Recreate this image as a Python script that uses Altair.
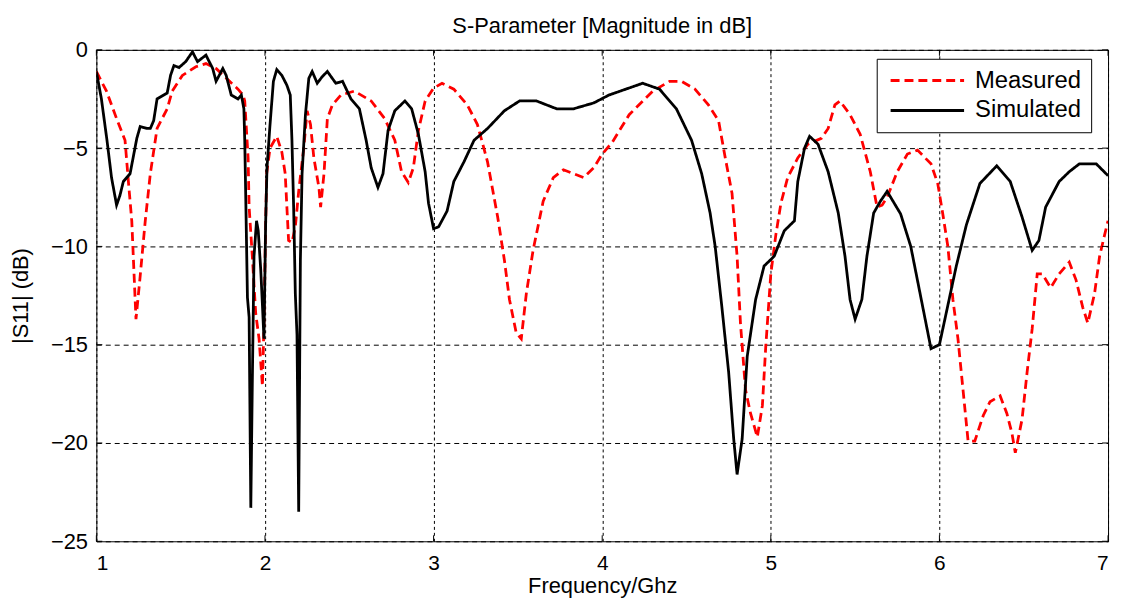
import altair as alt
import pandas as pd

# ---- data ----
sim_f = [1.00, 1.03, 1.063, 1.09, 1.12, 1.14, 1.16, 1.20, 1.24, 1.26, 1.30, 1.32, 1.34, 1.36, 1.42, 1.44,
         1.46, 1.49, 1.53, 1.57, 1.60, 1.65, 1.69, 1.71, 1.75, 1.77, 1.80, 1.84, 1.86, 1.875, 1.88, 1.886,
         1.896, 1.906, 1.916, 1.925, 1.935, 1.950, 1.96, 1.975, 1.985, 1.994, 2.004, 2.012, 2.03, 2.05,
         2.07, 2.10, 2.13, 2.15, 2.16, 2.17, 2.18, 2.19, 2.20, 2.21, 2.22, 2.24, 2.26, 2.28, 2.31, 2.34,
         2.37, 2.42, 2.46, 2.51, 2.56, 2.60, 2.63, 2.67, 2.70, 2.73, 2.77, 2.83, 2.87, 2.91, 2.95, 2.97,
         3.00, 3.03, 3.08, 3.12, 3.18, 3.24, 3.32, 3.42, 3.51, 3.61, 3.73, 3.83, 3.95, 4.04, 4.14, 4.24,
         4.34, 4.44, 4.53, 4.59, 4.64, 4.67, 4.71, 4.75, 4.78, 4.80, 4.83, 4.86, 4.91, 4.96, 5.02, 5.08,
         5.14, 5.16, 5.20, 5.23, 5.28, 5.34, 5.40, 5.44, 5.47, 5.50, 5.54, 5.57, 5.61, 5.65, 5.69, 5.77,
         5.83, 5.89, 5.95, 6.00, 6.04, 6.10, 6.16, 6.24, 6.34, 6.42, 6.49, 6.55, 6.59, 6.63, 6.71, 6.77,
         6.83, 6.93, 7.00]
sim_db = [-1.1, -2.5, -4.6, -6.5, -7.9, -7.4, -6.7, -6.3, -4.5, -3.9, -4.0, -4.0, -3.6, -2.5, -2.2, -1.3,
          -0.8, -0.9, -0.6, -0.1, -0.6, -0.27, -0.95, -1.6, -0.95, -1.3, -2.3, -2.5, -2.3, -3.0, -4.6, -7.5,
          -12.6, -13.6, -23.3, -16.9, -10.5, -8.7, -9.2, -11.2, -13.0, -14.7, -8.8, -6.0, -3.8, -1.6,
          -1.0, -1.3, -1.8, -2.3, -4.6, -8.0, -12.4, -14.5, -23.5, -10.7, -6.3, -3.3, -1.45, -1.1, -1.7, -1.36,
          -1.1, -1.7, -1.6, -2.5, -3.0, -4.6, -6.0, -7.0, -6.3, -4.1, -3.1, -2.6, -3.0, -4.3, -6.2, -7.8,
          -9.1, -9.0, -8.2, -6.7, -5.7, -4.6, -4.0, -3.1, -2.6, -2.6, -3.0, -3.0, -2.7, -2.3, -2.0, -1.7,
          -2.0, -3.0, -4.6, -6.3, -8.3, -10.0, -13.1, -16.4, -19.8, -21.6, -19.8, -15.6, -12.7, -11.0, -10.5, -9.2,
          -8.7, -6.7, -5.0, -4.4, -4.8, -6.2, -8.3, -10.5, -12.7, -13.7, -12.7, -10.5, -8.3, -7.7, -7.2, -8.35,
          -10.0, -12.6, -15.2, -15.0, -13.4, -11.0, -8.9, -6.8, -5.9, -6.7, -8.5, -10.2, -9.7, -8.0, -6.7, -6.2,
          -5.8, -5.8, -6.4]

meas_f = [1.00, 1.06, 1.12, 1.17, 1.19, 1.21, 1.235, 1.26, 1.29, 1.32, 1.36, 1.42, 1.45, 1.51, 1.59, 1.65,
          1.71, 1.79, 1.84, 1.87, 1.88, 1.90, 1.906, 1.925, 1.945, 1.965, 1.985, 1.994, 2.004, 2.01, 2.03, 2.07,
          2.10, 2.12, 2.14, 2.16, 2.18, 2.20, 2.23, 2.25, 2.27, 2.29, 2.32, 2.33, 2.35, 2.37, 2.40, 2.45,
          2.53, 2.63, 2.71, 2.77, 2.81, 2.85, 2.88, 2.91, 2.95, 3.00, 3.05, 3.12, 3.20, 3.26, 3.32, 3.38,
          3.42, 3.45, 3.49, 3.52, 3.55, 3.59, 3.65, 3.71, 3.77, 3.89, 3.95, 4.00, 4.06, 4.16, 4.30, 4.40,
          4.47, 4.55, 4.63, 4.69, 4.73, 4.77, 4.80, 4.82, 4.85, 4.88, 4.92, 4.95, 4.97, 5.00, 5.03, 5.06,
          5.10, 5.16, 5.22, 5.30, 5.34, 5.38, 5.41, 5.47, 5.53, 5.59, 5.63, 5.66, 5.69, 5.75, 5.81, 5.87,
          5.95, 5.99, 6.02, 6.05, 6.08, 6.11, 6.14, 6.17, 6.21, 6.26, 6.30, 6.36, 6.40, 6.43, 6.45, 6.49,
          6.52, 6.55, 6.58, 6.61, 6.66, 6.71, 6.77, 6.81, 6.85, 6.88, 6.92, 6.95, 6.98, 7.00]
meas_db = [-1.1, -2.1, -3.5, -4.6, -6.7, -8.7, -13.7, -11.5, -8.7, -6.3, -4.0, -3.0, -2.1, -1.3, -0.86, -0.7,
           -0.95, -1.6, -2.0, -2.3, -2.6, -5.5, -8.0, -10.5, -13.4, -14.7, -17.1, -13.9, -8.85, -6.3, -5.0, -4.4,
           -5.2, -6.3, -9.7, -9.8, -9.0, -7.2, -5.0, -3.1, -3.8, -5.5, -7.0, -8.0, -6.3, -3.5, -2.8, -2.3,
           -2.1, -2.6, -3.5, -4.6, -6.2, -6.75, -6.0, -4.1, -2.6, -1.95, -1.7, -2.0, -2.8, -3.8, -5.7, -8.5,
           -10.7, -12.7, -14.4, -14.7, -12.4, -10.2, -7.7, -6.5, -6.1, -6.5, -6.0, -5.3, -4.7, -3.3, -2.1, -1.6,
           -1.6, -2.0, -2.8, -3.6, -5.5, -7.3, -10.5, -13.9, -17.3, -18.5, -19.7, -18.1, -15.1, -11.4, -9.4, -7.8,
           -6.5, -5.5, -4.8, -4.5, -4.0, -2.8, -2.6, -3.3, -4.3, -6.2, -8.0, -7.9, -7.5, -6.2, -5.3, -5.1,
           -5.8, -6.8, -8.35, -10.0, -12.7, -14.7, -17.3, -19.9, -19.9, -18.6, -17.9, -17.6, -18.5, -19.5, -20.5, -18.8,
           -16.4, -14.2, -11.4, -11.4, -12.1, -11.4, -10.8, -11.7, -13.1, -13.9, -12.4, -10.5, -9.4, -8.7]

series_names = ["Measured", "Simulated"]
series_colors = ["#ff0000", "#000000"]
x_ticks = [1, 2, 3, 4, 5, 6, 7]
y_ticks = [0, -5, -10, -15, -20, -25]

FONT = "Liberation Sans"
W, H = 1019, 495

df = pd.concat([
    pd.DataFrame({"f": meas_f, "db": meas_db, "series": "Measured", "order": range(len(meas_f))}),
    pd.DataFrame({"f": sim_f, "db": sim_db, "series": "Simulated", "order": range(len(sim_f))}),
])

xscale = alt.Scale(domain=[1, 7], nice=False, zero=False)
yscale = alt.Scale(domain=[-25, 0], nice=False, zero=False)

lines = alt.Chart(df).mark_line(strokeWidth=2.8, clip=True).encode(
    x=alt.X("f:Q", scale=xscale,
            axis=alt.Axis(values=x_ticks, format="d", title="Frequency/Ghz", grid=True, gridDash=[3, 3],
                          labelPadding=11, labelFontSize=21, titlePadding=3)),
    y=alt.Y("db:Q", scale=yscale,
            axis=alt.Axis(values=y_ticks, format="d", title="|S11| (dB)", grid=True, gridDash=[5, 4],
                          labelPadding=9, titlePadding=18)),
    color=alt.Color("series:N", scale=alt.Scale(domain=series_names, range=series_colors),
                    legend=alt.Legend(title=None, orient="none", legendX=786, legendY=9,
                                      symbolType="M-1,0H8.25", symbolSize=256, symbolStrokeWidth=3,
                                      labelOffset=65, labelFontSize=24, labelFont=FONT, labelColor="black",
                                      rowPadding=6, padding=10, strokeColor="black", fillColor="white",
                                      cornerRadius=0)),
    strokeDash=alt.StrokeDash("series:N", scale=alt.Scale(domain=series_names, range=[[9, 5], [1, 0]])),
    detail="series:N",
    order="order:Q",
)

xt = pd.DataFrame({"t": x_ticks})
yt = pd.DataFrame({"t": y_ticks})
tick_top = alt.Chart(xt).mark_rule(color="black", strokeWidth=1).encode(
    x=alt.X("t:Q", scale=xscale), y=alt.value(0), y2=alt.value(6))
tick_bot = alt.Chart(xt).mark_rule(color="black", strokeWidth=1).encode(
    x=alt.X("t:Q", scale=xscale), y=alt.value(H - 6), y2=alt.value(H))
tick_left = alt.Chart(yt).mark_rule(color="black", strokeWidth=1).encode(
    y=alt.Y("t:Q", scale=yscale), x=alt.value(0), x2=alt.value(6))
tick_right = alt.Chart(yt).mark_rule(color="black", strokeWidth=1).encode(
    y=alt.Y("t:Q", scale=yscale), x=alt.value(W - 6), x2=alt.value(W))

chart = alt.layer(lines, tick_top, tick_bot, tick_left, tick_right).properties(
    width=W, height=H,
    background="white",
    title=alt.TitleParams("S-Parameter [Magnitude in dB]", font=FONT, fontSize=22, fontWeight="normal",
                          color="black", anchor="middle", offset=1),
    autosize=alt.AutoSizeParams(type="none"),
    padding={"left": 89, "top": 40, "right": 5, "bottom": 56},
).configure_view(
    stroke="black", strokeWidth=1
).configure_axis(
    domain=False, ticks=False, gridColor="black", gridOpacity=1, gridWidth=1,
    labelFont=FONT, labelFontSize=22, labelColor="black",
    titleFont=FONT, titleFontSize=22, titleFontWeight="normal", titleColor="black",
)

chart.save("out.html", embed_options={"renderer": "svg", "actions": False})
